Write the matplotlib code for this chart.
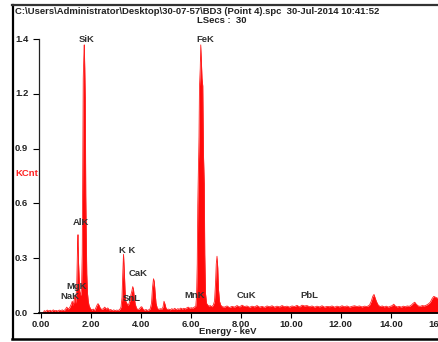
import numpy as np
import matplotlib
matplotlib.use('Agg')
import matplotlib.pyplot as plt
import matplotlib.transforms as mtrans
from matplotlib.lines import Line2D

plt.rcParams['font.family'] = ['Liberation Sans', 'DejaVu Sans']

# spectrum (energy in keV, counts in KCnt)
energy = [0.00, 0.10, 0.14, 0.20, 0.26, 0.32, 0.38, 0.44, 0.50, 0.56, 0.62, 0.68, 0.74, 0.80, 0.86, 0.92, 0.98,
          1.04, 1.10, 1.16, 1.22, 1.26, 1.30, 1.34, 1.37, 1.40, 1.44, 1.47, 1.49, 1.51, 1.53, 1.56, 1.60, 1.63,
          1.66, 1.68, 1.70, 1.72, 1.74, 1.76, 1.78, 1.80, 1.82, 1.84, 1.87, 1.90, 1.93, 1.96, 2.00, 2.05, 2.10,
          2.15, 2.20, 2.25, 2.29, 2.33, 2.38, 2.44, 2.50, 2.56, 2.62, 2.68, 2.74, 2.80, 2.86, 2.92, 2.98, 3.04,
          3.10, 3.16, 3.21, 3.25, 3.28, 3.31, 3.34, 3.37, 3.40, 3.44, 3.48, 3.52, 3.56, 3.60, 3.64, 3.68, 3.71,
          3.74, 3.78, 3.83, 3.88, 3.94, 4.00, 4.04, 4.09, 4.15, 4.21, 4.27, 4.33, 4.38, 4.43, 4.47, 4.51, 4.54,
          4.57, 4.61, 4.66, 4.72, 4.78, 4.84, 4.89, 4.93, 4.97, 5.01, 5.06, 5.12, 5.18, 5.24, 5.30, 5.36, 5.42,
          5.48, 5.54, 5.60, 5.66, 5.72, 5.78, 5.84, 5.90, 5.96, 6.02, 6.08, 6.14, 6.20, 6.23, 6.26, 6.28, 6.30,
          6.33, 6.35, 6.38, 6.40, 6.42, 6.45, 6.48, 6.51, 6.54, 6.56, 6.59, 6.63, 6.68, 6.73, 6.78, 6.84, 6.90,
          6.95, 6.99, 7.02, 7.05, 7.08, 7.11, 7.15, 7.20, 7.26, 7.35, 7.45, 7.55, 7.65, 7.75, 7.85, 7.95, 8.05,
          8.15, 8.25, 8.35, 8.45, 8.55, 8.65, 8.75, 8.85, 8.95, 9.05, 9.15, 9.25, 9.35, 9.45, 9.55, 9.65, 9.75,
          9.85, 9.95, 10.05, 10.15, 10.25, 10.35, 10.45, 10.55, 10.65, 10.75, 10.85, 10.95, 11.05, 11.15, 11.25,
          11.35, 11.45, 11.55, 11.65, 11.75, 11.85, 11.95, 12.05, 12.15, 12.25, 12.35, 12.45, 12.55, 12.65,
          12.75, 12.85, 12.95, 13.05, 13.15, 13.22, 13.28, 13.33, 13.38, 13.44, 13.50, 13.58, 13.66, 13.74,
          13.82, 13.90, 13.98, 14.06, 14.12, 14.18, 14.26, 14.34, 14.42, 14.50, 14.58, 14.66, 14.74, 14.82,
          14.90, 14.96, 15.02, 15.10, 15.18, 15.26, 15.34, 15.42, 15.50, 15.58, 15.66, 15.72, 15.80, 15.88,
          15.96, 16.10, 16.30]
kcnt = [0.000, 0.000, 0.012, 0.008, 0.015, 0.010, 0.014, 0.009, 0.016, 0.011, 0.013, 0.010, 0.015, 0.012, 0.016,
        0.012, 0.018, 0.030, 0.020, 0.028, 0.045, 0.060, 0.040, 0.070, 0.090, 0.050, 0.150, 0.330, 0.400, 0.260,
        0.200, 0.110, 0.090, 0.120, 0.300, 0.800, 1.200, 1.300, 1.370, 1.250, 1.100, 0.600, 0.400, 0.200, 0.100,
        0.060, 0.040, 0.030, 0.020, 0.015, 0.020, 0.012, 0.025, 0.040, 0.048, 0.040, 0.025, 0.018, 0.022, 0.030,
        0.020, 0.026, 0.015, 0.018, 0.012, 0.016, 0.012, 0.015, 0.013, 0.018, 0.030, 0.080, 0.200, 0.300, 0.220,
        0.120, 0.060, 0.050, 0.040, 0.045, 0.060, 0.090, 0.110, 0.135, 0.120, 0.080, 0.045, 0.025, 0.018, 0.020,
        0.030, 0.032, 0.020, 0.014, 0.018, 0.013, 0.017, 0.022, 0.050, 0.130, 0.175, 0.160, 0.110, 0.050, 0.025,
        0.018, 0.022, 0.020, 0.030, 0.060, 0.045, 0.025, 0.018, 0.020, 0.016, 0.022, 0.018, 0.024, 0.017, 0.022,
        0.019, 0.025, 0.020, 0.024, 0.021, 0.026, 0.030, 0.024, 0.027, 0.025, 0.030, 0.035, 0.080, 0.250, 0.550,
        0.700, 0.900, 1.160, 1.250, 1.370, 1.300, 1.200, 1.160, 0.800, 0.660, 0.300, 0.100, 0.050, 0.040, 0.035,
        0.038, 0.032, 0.040, 0.060, 0.150, 0.250, 0.290, 0.230, 0.120, 0.060, 0.040, 0.032, 0.030, 0.036, 0.028,
        0.034, 0.030, 0.038, 0.031, 0.040, 0.033, 0.036, 0.029, 0.035, 0.031, 0.038, 0.030, 0.034, 0.029, 0.036,
        0.032, 0.037, 0.030, 0.035, 0.031, 0.038, 0.032, 0.035, 0.030, 0.036, 0.033, 0.039, 0.031, 0.040, 0.036,
        0.038, 0.032, 0.036, 0.030, 0.035, 0.031, 0.037, 0.030, 0.034, 0.032, 0.036, 0.030, 0.035, 0.031, 0.037,
        0.032, 0.036, 0.030, 0.034, 0.037, 0.033, 0.036, 0.031, 0.035, 0.033, 0.040, 0.060, 0.085, 0.095, 0.075,
        0.055, 0.040, 0.033, 0.036, 0.031, 0.035, 0.030, 0.034, 0.038, 0.045, 0.036, 0.031, 0.034, 0.030, 0.035,
        0.032, 0.036, 0.034, 0.040, 0.050, 0.055, 0.045, 0.036, 0.034, 0.038, 0.036, 0.040, 0.046, 0.055, 0.075,
        0.085, 0.080, 0.075, 0.082, 0.078, 0.070]

# element labels: name, energy, height
peak_names = ['SiK', 'FeK', 'AlK', 'MgK', 'NaK', 'K K', 'CaK', 'SnL', 'MnK', 'CuK', 'PbL']
peak_x = [1.85, 6.57, 1.61, 1.45, 1.17, 3.45, 3.88, 3.62, 6.14, 8.24, 10.73]
peak_y = [1.40, 1.40, 0.46, 0.133, 0.082, 0.32, 0.20, 0.072, 0.088, 0.088, 0.088]

ytick_labels = ['0.0', '0.3', '0.6', '0.9', '1.2', '1.4']
xtick_vals = [0, 2, 4, 6, 8, 10, 12, 14, 16]

W, H = 438, 342
FS = 6.8
fig = plt.figure(figsize=(W / 100, H / 100), dpi=100)

def fx(px):
    return px / W

def fy(py):
    return 1 - py / H

x0, x1 = -0.07, 20.0
ax = fig.add_axes([fx(39), fy(313), (x1 - x0) * 25 / W, (313 - 39) / H])
ax.fill_between(energy, kcnt, 0, color='#ff0a0a', lw=0)
ax.plot(energy, kcnt, color='#ff2020', lw=0.6)
ax.set_xlim(x0, x1)
ax.set_ylim(0, 1.4)

for s in ['top', 'right']:
    ax.spines[s].set_visible(False)
ax.spines['left'].set_linewidth(0.9)
ax.spines['left'].set_color('#222222')
ax.spines['bottom'].set_linewidth(1.3)

ax.set_xticks(xtick_vals, labels=['%.2f' % v for v in xtick_vals])
ax.tick_params(axis='x', length=3.5, width=0.8, pad=1.5, labelsize=FS)
for lab in ax.get_xticklabels():
    lab.set_fontweight('bold')
    lab.set_color('#222222')

yt = np.linspace(0, 1.4, len(ytick_labels))
ax.set_yticks(yt, labels=[''] * len(yt))
ax.tick_params(axis='y', length=4, width=0.8)
blend = mtrans.blended_transform_factory(fig.transFigure, ax.transData)
for v, lab in zip(yt, ytick_labels):
    ax.text(fx(15), v, lab, transform=blend, ha='left', va='center', fontsize=FS,
            fontweight='bold', color='#222222')

for name, x, y in zip(peak_names, peak_x, peak_y):
    ax.text(x, y, name, ha='center', va='center', fontsize=FS, fontweight='bold',
            color='#333333', clip_on=False)

fig.text(fx(15), fy(11), r'C:\Users\Administrator\Desktop\30-07-57\BD3 (Point 4).spc  30-Jul-2014 10:41:52',
         ha='left', va='center', fontsize=FS, fontweight='bold', color='#222222')
fig.text(fx(197), fy(20.5), 'LSecs :  30', ha='left', va='center', fontsize=FS,
         fontweight='bold', color='#222222')
fig.text(fx(15), fy(174), 'KCnt', ha='left', va='center', fontsize=FS, fontweight='bold', color='#ff2020')
fig.text(fx(228), fy(332), 'Energy - keV', ha='center', va='center', fontsize=FS,
         fontweight='bold', color='#222222')

# outer frame
fig.add_artist(Line2D([fx(13), fx(13)], [fy(5), fy(339)], color='black', lw=1.6))
fig.add_artist(Line2D([fx(12), 1], [fy(5), fy(5)], color='#333333', lw=1.6))
fig.add_artist(Line2D([fx(12), 1], [fy(339), fy(339)], color='black', lw=1.8))

fig.savefig('out.png', dpi=100)
